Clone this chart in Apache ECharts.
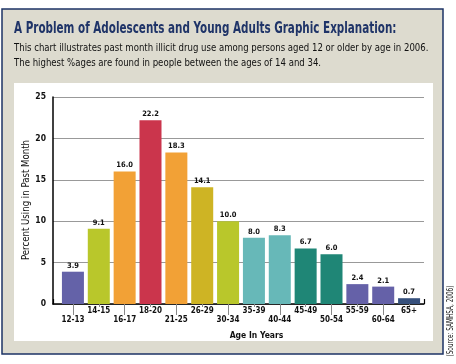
<!DOCTYPE html>
<html>
<head>
<meta charset="utf-8">
<script src="https://cdn.jsdelivr.net/npm/echarts@6/dist/echarts.min.js"></script>
<style>
html,body{margin:0;padding:0;background:#fff;}
#c{width:456px;height:364px;}
</style>
</head>
<body>
<div id="c"></div>
<script>
var categories = ['12-13','14-15','16-17','18-20','21-25','26-29','30-34','35-39','40-44','45-49','50-54','55-59','60-64','65+'];
var values = [3.9, 9.1, 16.0, 22.2, 18.3, 14.1, 10.0, 8.0, 8.3, 6.7, 6.0, 2.4, 2.1, 0.7];
var barColors = ['#6462a8','#b9c72b','#f2a136','#cb354c','#f2a136','#ceb424','#b9c72b','#67b8b8','#67b8b8','#1f8676','#1f8676','#6561a8','#6561a8','#36507c'];
var yTicks = [0, 5, 10, 15, 20, 25];

var titleText = 'A Problem of Adolescents and Young Adults Graphic Explanation:';
var subtitleText = 'This chart illustrates past month illicit drug use among persons aged 12 or older by age in 2006.\nThe highest %ages are found in people between the ages of 14 and 34.';
var yName = 'Percent Using in Past Month';
var xName = 'Age In Years';
var sourceText = '(Source: SAMHSA, 2006)';

var narrow = '"Liberation Sans Narrow","DejaVu Sans Condensed",sans-serif';
var chart = echarts.init(document.getElementById('c'), null, {renderer: 'canvas'});

var option = {
  backgroundColor: '#ffffff',
  animation: false,
  graphic: [
    {type: 'rect', z: -10, shape: {x: 2, y: 9, width: 441, height: 345},
     style: {fill: '#dddbcf', stroke: '#1c3366', lineWidth: 1.5}},
    {type: 'rect', z: -9, shape: {x: 14, y: 83, width: 419, height: 258},
     style: {fill: '#ffffff'}},
    {type: 'text', z: 10, x: 14, y: 29, scaleX: 0.77,
     style: {text: titleText, font: 'bold 15px ' + narrow, fill: '#1f3468',
             textAlign: 'left', textVerticalAlign: 'middle'}},
    {type: 'text', z: 10, x: 14, y: 41, scaleX: 0.865,
     style: {text: subtitleText, font: '11px ' + narrow, fill: '#111', lineHeight: 14.5,
             textAlign: 'left', textVerticalAlign: 'top'}},
    {type: 'text', z: 10, x: 26, y: 200, rotation: Math.PI / 2, scaleX: 0.87,
     style: {text: yName, font: '11px ' + narrow, fill: '#111',
             textAlign: 'center', textVerticalAlign: 'middle'}},
    {type: 'text', z: 10, x: 451, y: 321, rotation: Math.PI / 2, scaleX: 0.8,
     style: {text: sourceText, font: '8px ' + narrow, fill: '#111',
             textAlign: 'center', textVerticalAlign: 'middle'}}
  ],
  grid: [
    {left: 53, right: 32, top: 97, bottom: 60},
    {left: 60, right: 34, top: 97, bottom: 60}
  ],
  xAxis: [
    {type: 'value', gridIndex: 0, min: 0, max: 1, interval: 1,
     axisLine: {show: true, lineStyle: {color: '#000', width: 1.5}},
     axisTick: {show: true, inside: true, length: 5, lineStyle: {color: '#000', width: 1.2}},
     axisLabel: {show: false}, splitLine: {show: false},
     name: xName, nameLocation: 'middle', nameGap: 27,
     nameTextStyle: {fontFamily: narrow, fontSize: 8.5, fontWeight: 'bold', color: '#111', padding: [0, 0, 0, 36]}},
    {type: 'category', gridIndex: 1, data: categories, position: 'bottom',
     axisLine: {show: false},
     axisTick: {show: true, alignWithLabel: true, length: 11, interval: function (i) { return i % 2 === 0; },
                lineStyle: {color: '#888', width: 1}},
     axisLabel: {interval: function (i) { return i % 2 === 0; }, margin: 12,
                 fontFamily: narrow, fontSize: 8, fontWeight: 'bold', color: '#111'}},
    {type: 'category', gridIndex: 1, data: categories, position: 'bottom',
     axisLine: {show: false},
     axisTick: {show: true, alignWithLabel: true, length: 3, interval: function (i) { return i % 2 === 1; },
                lineStyle: {color: '#888', width: 1}},
     axisLabel: {interval: function (i) { return i % 2 === 1; }, margin: 3,
                 fontFamily: narrow, fontSize: 8, fontWeight: 'bold', color: '#111'}}
  ],
  yAxis: [
    {type: 'value', gridIndex: 0, min: yTicks[0], max: yTicks[yTicks.length - 1], interval: 5,
     axisLine: {show: true, lineStyle: {color: '#000', width: 1.5}},
     axisTick: {show: false},
     axisLabel: {margin: 7, fontFamily: narrow, fontSize: 8.5, fontWeight: 'bold', color: '#111'},
     splitLine: {show: true, lineStyle: {color: '#999', width: 1}}},
    {type: 'value', gridIndex: 1, min: 0, max: 25, show: false}
  ],
  series: [{
    type: 'bar', xAxisIndex: 1, yAxisIndex: 1, barWidth: 22,
    data: values.map(function (v, i) { return {value: v, itemStyle: {color: barColors[i]}}; }),
    label: {show: true, position: 'top', distance: 2,
            formatter: function (p) { return p.value.toFixed(1); },
            fontFamily: narrow, fontSize: 7.5, fontWeight: 'bold', color: '#111'}
  }]
};
chart.setOption(option);
</script>
</body>
</html>
